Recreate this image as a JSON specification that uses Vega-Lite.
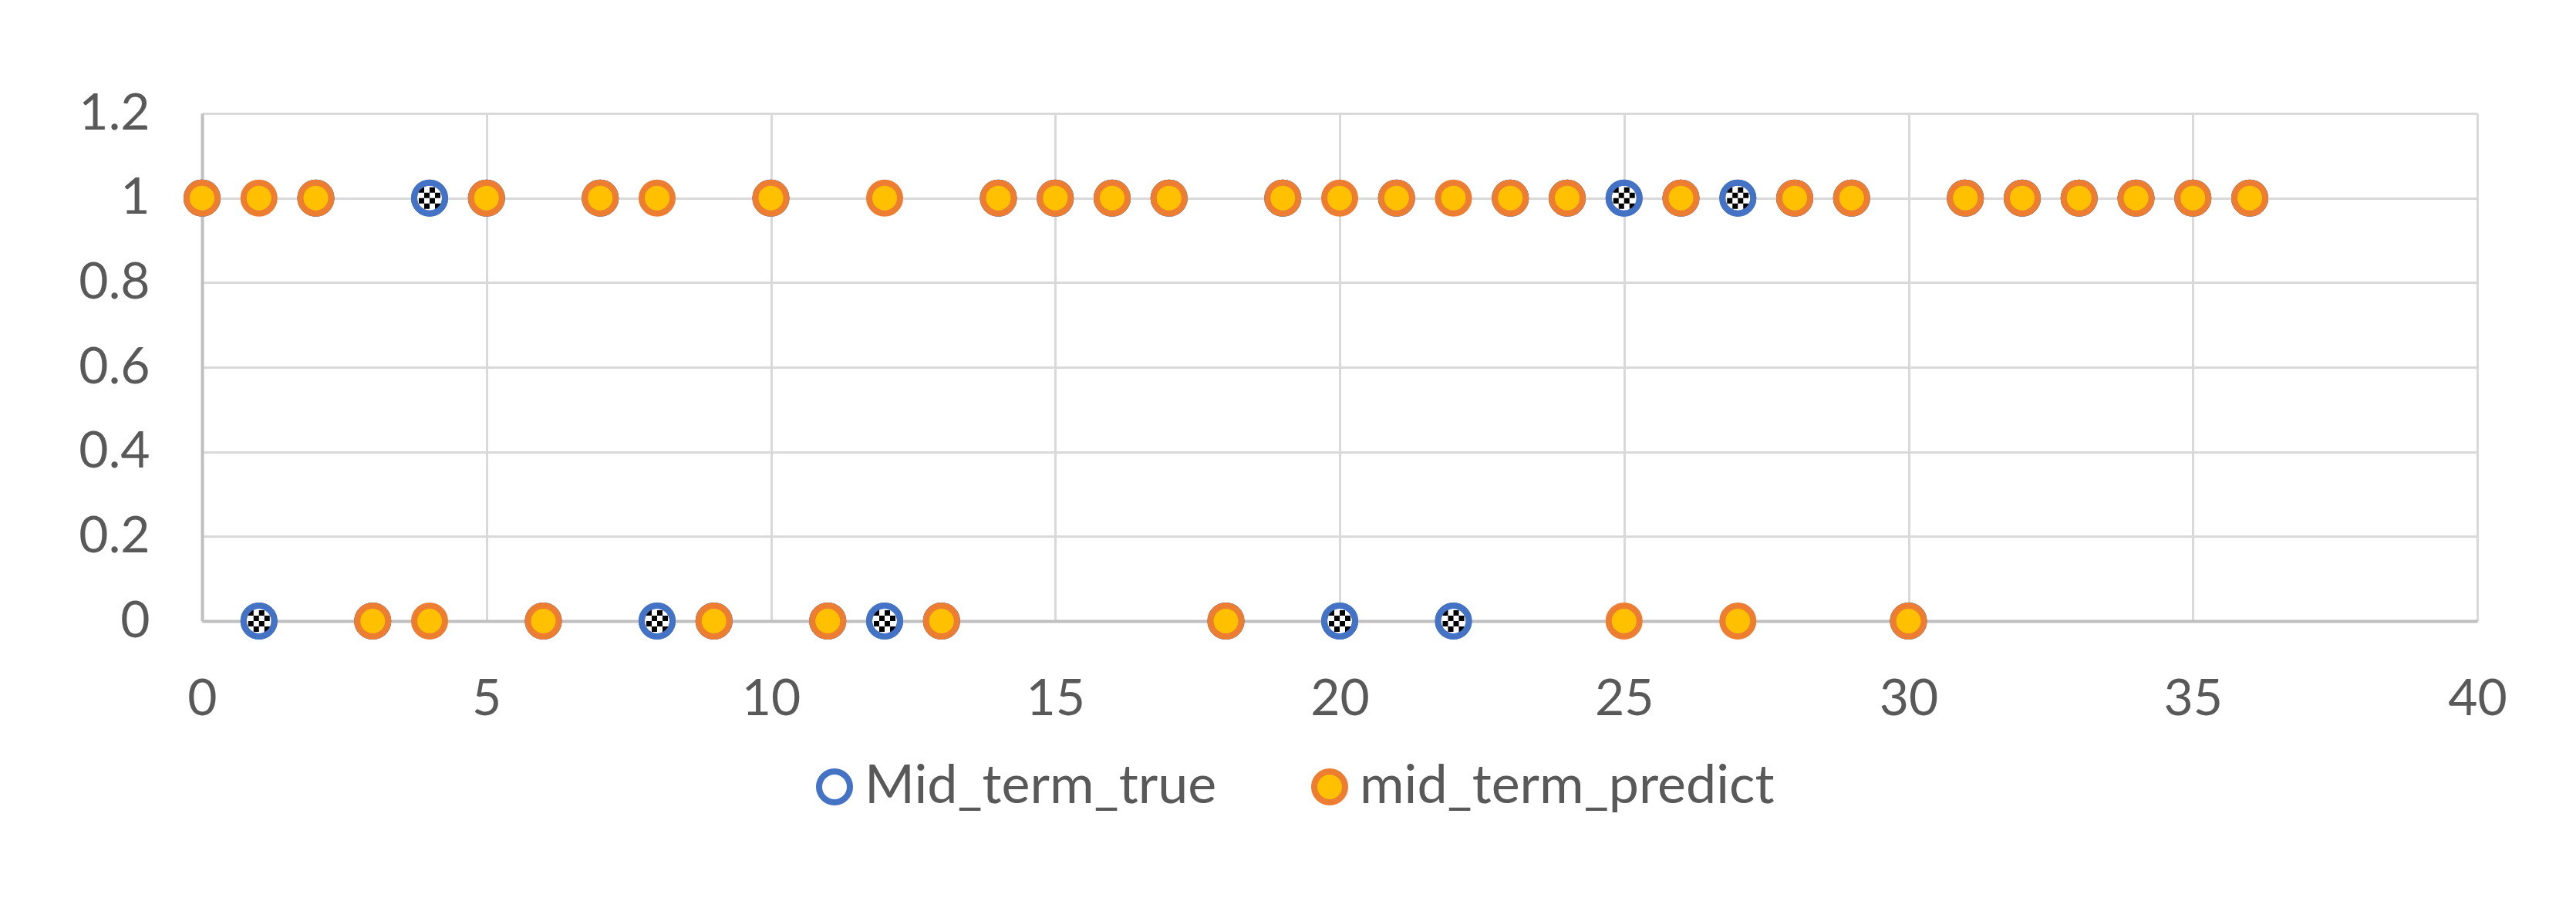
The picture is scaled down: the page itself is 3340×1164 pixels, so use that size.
{
  "$schema": "https://vega.github.io/schema/vega-lite/v6.json",
  "width": 2950,
  "height": 658,
  "autosize": {"type": "none"},
  "padding": {"left": 262, "top": 147, "right": 128, "bottom": 359},
  "background": "white",
  "config": {
    "font": "Lato",
    "view": {"stroke": null},
    "axis": {
      "labelFont": "Lato",
      "labelFontSize": 66,
      "labelColor": "#595959",
      "labelFlush": false,
      "gridColor": "#D9D9D9",
      "gridWidth": 3,
      "ticks": false,
      "domainColor": "#BFBFBF",
      "domainWidth": 4,
      "title": null
    },
    "legend": {
      "labelFont": "Lato",
      "labelFontSize": 70,
      "labelColor": "#595959",
      "symbolSize": 1600,
      "symbolStrokeWidth": 8,
      "labelOffset": 4,
      "columnPadding": 110,
      "padding": 0,
      "labelLimit": 1000
    }
  },
  "data": {
    "values": [
      {"x": 0, "true": 1, "predict": 1},
      {"x": 1, "true": 0, "predict": 1},
      {"x": 2, "true": 1, "predict": 1},
      {"x": 3, "true": 0, "predict": 0},
      {"x": 4, "true": 1, "predict": 0},
      {"x": 5, "true": 1, "predict": 1},
      {"x": 6, "true": 0, "predict": 0},
      {"x": 7, "true": 1, "predict": 1},
      {"x": 8, "true": 0, "predict": 1},
      {"x": 9, "true": 0, "predict": 0},
      {"x": 10, "true": 1, "predict": 1},
      {"x": 11, "true": 0, "predict": 0},
      {"x": 12, "true": 0, "predict": 1},
      {"x": 13, "true": 0, "predict": 0},
      {"x": 14, "true": 1, "predict": 1},
      {"x": 15, "true": 1, "predict": 1},
      {"x": 16, "true": 1, "predict": 1},
      {"x": 17, "true": 1, "predict": 1},
      {"x": 18, "true": 0, "predict": 0},
      {"x": 19, "true": 1, "predict": 1},
      {"x": 20, "true": 0, "predict": 1},
      {"x": 21, "true": 1, "predict": 1},
      {"x": 22, "true": 0, "predict": 1},
      {"x": 23, "true": 1, "predict": 1},
      {"x": 24, "true": 1, "predict": 1},
      {"x": 25, "true": 1, "predict": 0},
      {"x": 26, "true": 1, "predict": 1},
      {"x": 27, "true": 1, "predict": 0},
      {"x": 28, "true": 1, "predict": 1},
      {"x": 29, "true": 1, "predict": 1},
      {"x": 30, "true": 0, "predict": 0},
      {"x": 31, "true": 1, "predict": 1},
      {"x": 32, "true": 1, "predict": 1},
      {"x": 33, "true": 1, "predict": 1},
      {"x": 34, "true": 1, "predict": 1},
      {"x": 35, "true": 1, "predict": 1},
      {"x": 36, "true": 1, "predict": 1}
    ]
  },
  "encoding": {
    "x": {
      "field": "x",
      "type": "quantitative",
      "scale": {"domain": [0, 40], "nice": false, "zero": false},
      "axis": {"values": [0, 5, 10, 15, 20, 25, 30, 35, 40], "labelPadding": 69, "grid": true, "format": "d"}
    }
  },
  "layer": [
    {
      "mark": {"type": "point", "filled": true, "opacity": 1, "size": 1600, "strokeWidth": 8, "clip": false},
      "encoding": {
        "y": {
          "field": "true",
          "type": "quantitative",
          "scale": {"domain": [0, 1.2], "nice": false},
          "axis": {"values": [0, 0.2, 0.4, 0.6, 0.8, 1, 1.2], "format": "~g", "labelPadding": 68, "grid": true}
        },
        "stroke": {
          "datum": "Mid_term_true",
          "type": "nominal",
          "scale": {"domain": ["Mid_term_true", "mid_term_predict"], "range": ["#4472C4", "#ED7D31"]},
          "legend": {"title": null, "orient": "none", "direction": "horizontal", "legendX": 785, "legendY": 838}
        },
        "fill": {
          "datum": "Mid_term_true",
          "type": "nominal",
          "scale": {"domain": ["Mid_term_true", "mid_term_predict"], "range": ["#FFFFFF", "#FFC000"]},
          "legend": {"title": null, "orient": "none", "direction": "horizontal", "legendX": 785, "legendY": 838}
        }
      }
    },
    {
      "mark": {
        "type": "point",
        "filled": true,
        "opacity": 1,
        "size": 1024,
        "color": "black",
        "strokeWidth": 0,
        "clip": false,
        "shape": "M-0.875,-0.875h0.4375v0.4375h-0.4375zM0,-0.875h0.4375v0.4375h-0.4375zM-0.4375,-0.4375h0.4375v0.4375h-0.4375zM0.4375,-0.4375h0.4375v0.4375h-0.4375zM-0.875,0h0.4375v0.4375h-0.4375zM0,0h0.4375v0.4375h-0.4375zM-0.4375,0.4375h0.4375v0.4375h-0.4375zM0.4375,0.4375h0.4375v0.4375h-0.4375z"
      },
      "encoding": {
        "y": {"field": "true", "type": "quantitative"}
      }
    },
    {
      "mark": {"type": "point", "filled": false, "opacity": 1, "size": 1600, "strokeWidth": 8, "color": "#4472C4", "clip": false},
      "encoding": {
        "y": {"field": "true", "type": "quantitative"}
      }
    },
    {
      "mark": {"type": "point", "filled": true, "opacity": 1, "size": 1600, "strokeWidth": 8, "clip": false},
      "encoding": {
        "y": {"field": "predict", "type": "quantitative"},
        "stroke": {"datum": "mid_term_predict", "type": "nominal"},
        "fill": {"datum": "mid_term_predict", "type": "nominal"}
      }
    }
  ]
}
